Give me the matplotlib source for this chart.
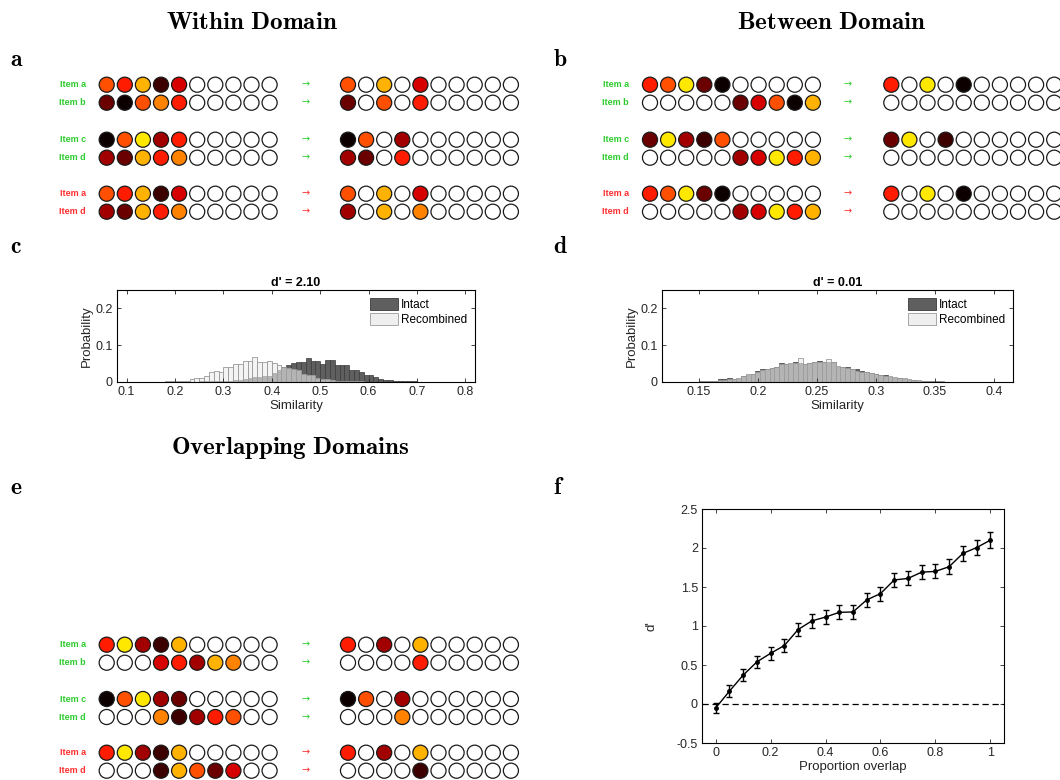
import matplotlib
matplotlib.use("Agg")
import matplotlib.pyplot as plt
from matplotlib.patches import Patch
import numpy as np

plt.rcParams['font.family'] = ['Liberation Sans', 'DejaVu Sans']
plt.rcParams['mathtext.fontset'] = 'cm'

W, H = 1060, 780

## colour codes of the circles (0 = empty)
PALETTE = ["#ffffff", "#0c0000", "#3c0000", "#6a0000", "#a20000", "#d60000",
           "#ff1c00", "#ff4f00", "#ff8200", "#ffb200", "#ffe800"]

ROW_LABELS = ["Item a", "Item b", "Item c", "Item d", "Item a", "Item d"]
ROW_OK = [True, True, True, True, False, False]

a_left = [[7, 6, 9, 2, 5, 0, 0, 0, 0, 0],
          [3, 1, 7, 8, 6, 0, 0, 0, 0, 0],
          [1, 7, 10, 4, 6, 0, 0, 0, 0, 0],
          [4, 3, 9, 6, 8, 0, 0, 0, 0, 0],
          [7, 6, 9, 2, 5, 0, 0, 0, 0, 0],
          [4, 3, 9, 6, 8, 0, 0, 0, 0, 0]]
a_right = [[7, 0, 9, 0, 5, 0, 0, 0, 0, 0],
           [3, 0, 7, 0, 6, 0, 0, 0, 0, 0],
           [1, 7, 0, 4, 0, 0, 0, 0, 0, 0],
           [4, 3, 0, 6, 0, 0, 0, 0, 0, 0],
           [7, 0, 9, 0, 5, 0, 0, 0, 0, 0],
           [4, 0, 9, 0, 8, 0, 0, 0, 0, 0]]

b_left = [[6, 7, 10, 3, 1, 0, 0, 0, 0, 0],
          [0, 0, 0, 0, 0, 3, 5, 7, 1, 9],
          [3, 10, 4, 2, 7, 0, 0, 0, 0, 0],
          [0, 0, 0, 0, 0, 4, 5, 10, 6, 9],
          [6, 7, 10, 3, 1, 0, 0, 0, 0, 0],
          [0, 0, 0, 0, 0, 4, 5, 10, 6, 9]]
b_right = [[6, 0, 10, 0, 1, 0, 0, 0, 0, 0],
           [0, 0, 0, 0, 0, 0, 0, 0, 0, 0],
           [3, 10, 0, 2, 0, 0, 0, 0, 0, 0],
           [0, 0, 0, 0, 0, 0, 0, 0, 0, 0],
           [6, 0, 10, 0, 1, 0, 0, 0, 0, 0],
           [0, 0, 0, 0, 0, 0, 0, 0, 0, 0]]

e_left = [[6, 10, 4, 2, 9, 0, 0, 0, 0, 0],
          [0, 0, 0, 5, 6, 4, 9, 8, 0, 0],
          [1, 7, 10, 4, 3, 0, 0, 0, 0, 0],
          [0, 0, 0, 8, 2, 4, 6, 7, 0, 0],
          [6, 10, 4, 2, 9, 0, 0, 0, 0, 0],
          [0, 0, 0, 2, 9, 7, 3, 5, 0, 0]]
e_right = [[6, 0, 4, 0, 9, 0, 0, 0, 0, 0],
           [0, 0, 0, 0, 6, 0, 0, 0, 0, 0],
           [1, 7, 0, 4, 0, 0, 0, 0, 0, 0],
           [0, 0, 0, 8, 0, 0, 0, 0, 0, 0],
           [6, 0, 4, 0, 9, 0, 0, 0, 0, 0],
           [0, 0, 0, 0, 2, 0, 0, 0, 0, 0]]

## histogram c (bin width 0.01)
c_recomb_start = 0.18
c_recomb = [0.002, 0.003, 0.003, 0.003, 0.004, 0.007, 0.011, 0.011, 0.017, 0.026,
            0.031, 0.027, 0.041, 0.041, 0.049, 0.050, 0.058, 0.058, 0.069, 0.055,
            0.055, 0.057, 0.051, 0.047, 0.042, 0.038, 0.035, 0.032, 0.022, 0.020,
            0.020, 0.012, 0.008, 0.008, 0.005, 0.004, 0.004, 0.004, 0.003, 0.002,
            0.002, 0.001, 0.001, 0.001]
c_intact_start = 0.22
c_intact = [0.001, 0.001, 0.001, 0.002, 0.002, 0.002, 0.003, 0.003, 0.003, 0.004,
            0.005, 0.006, 0.008, 0.010, 0.013, 0.013, 0.017, 0.017, 0.024, 0.033,
            0.040, 0.045, 0.051, 0.054, 0.054, 0.065, 0.058, 0.056, 0.049, 0.059,
            0.059, 0.045, 0.047, 0.047, 0.032, 0.032, 0.026, 0.018, 0.018, 0.0135,
            0.009, 0.0045, 0.0045, 0.003, 0.003, 0.003, 0.002, 0.002, 0.001]

## histogram d (bin width 0.004)
d_start = 0.142
d_intact = [0.001, 0.001, 0.003, 0.002, 0.003, 0.004, 0.007, 0.009, 0.010, 0.007,
            0.009, 0.015, 0.020, 0.022, 0.031, 0.034, 0.034, 0.038, 0.041, 0.052,
            0.050, 0.050, 0.054, 0.052, 0.050, 0.052, 0.055, 0.057, 0.055, 0.055,
            0.053, 0.041, 0.040, 0.040, 0.036, 0.034, 0.029, 0.028, 0.025, 0.021,
            0.020, 0.020, 0.013, 0.012, 0.010, 0.009, 0.006, 0.006, 0.004, 0.003,
            0.003, 0.002, 0.002, 0.001, 0.001, 0.001, 0.000, 0.001]
d_recomb = [0.000, 0.001, 0.002, 0.002, 0.003, 0.003, 0.005, 0.006, 0.008, 0.008,
            0.011, 0.017, 0.021, 0.022, 0.028, 0.033, 0.034, 0.037, 0.040, 0.050,
            0.049, 0.052, 0.052, 0.065, 0.050, 0.051, 0.054, 0.055, 0.055, 0.062,
            0.055, 0.043, 0.041, 0.039, 0.035, 0.030, 0.027, 0.026, 0.024, 0.022,
            0.019, 0.017, 0.015, 0.013, 0.011, 0.010, 0.008, 0.006, 0.005, 0.004,
            0.003, 0.002, 0.002, 0.002, 0.001, 0.001, 0.001, 0.001]

## panel f
overlap = [0, 0.05, 0.1, 0.15, 0.2, 0.25, 0.3, 0.35, 0.4, 0.45, 0.5,
           0.55, 0.6, 0.65, 0.7, 0.75, 0.8, 0.85, 0.9, 0.95, 1.0]
dprime = [-0.05, 0.165, 0.37, 0.54, 0.65, 0.75, 0.955, 1.065, 1.115, 1.175, 1.18,
          1.335, 1.415, 1.59, 1.61, 1.69, 1.70, 1.76, 1.93, 2.005, 2.10]
dprime_err = [0.065, 0.08, 0.08, 0.08, 0.08, 0.085, 0.085, 0.085, 0.09, 0.09, 0.085,
              0.085, 0.09, 0.095, 0.09, 0.09, 0.09, 0.095, 0.1, 0.1, 0.1]


def rect(l, t, r, b):
    return [l / W, 1 - b / H, (r - l) / W, (b - t) / H]


fig = plt.figure(figsize=(W / 100, H / 100), dpi=100)

## overlay in pixel coordinates for the circle diagrams and headings
ov = fig.add_axes([0, 0, 1, 1])
ov.set_xlim(0, W)
ov.set_ylim(H, 0)
ov.axis("off")

GREEN = "#2ecc2e"
RED = "#ff3030"
STEP = 18.1


def draw_items(left, right, x_label, x_left, x_arrow, x_right, rows_y):
    for k, y in enumerate(rows_y):
        col = GREEN if ROW_OK[k] else RED
        ov.text(x_label, y, ROW_LABELS[k], color=col, fontsize=6.5,
                fontweight="bold", ha="right", va="center")
        ov.text(x_arrow, y, "\u2192", color=col, fontsize=7, ha="center",
                va="center", family="DejaVu Sans")
        for block, x0 in ((left[k], x_left), (right[k], x_right)):
            xs = [x0 + i * STEP for i in range(len(block))]
            ov.scatter(xs, [y] * len(block), s=118,
                       c=[PALETTE[v] for v in block],
                       edgecolors="#1a1a1a", linewidths=0.9, zorder=3,
                       clip_on=False)


rows_ab = [84.7, 102.7, 139.7, 157.7, 193.7, 211.7]
rows_e = [644.7, 662.7, 699.0, 717.0, 752.7, 770.7]
draw_items(a_left, a_right, 86, 106.7, 306, 348, rows_ab)
draw_items(b_left, b_right, 629, 650, 848, 891.3, rows_ab)
draw_items(e_left, e_right, 86, 106.7, 306, 348, rows_e)
ov.set_xlim(0, W)
ov.set_ylim(H, 0)

for txt, x, y in [("Within\\ Domain", 252, 22), ("Between\\ Domain", 832, 22),
                  ("Overlapping\\ Domains", 290, 448)]:
    ov.text(x, y, r"$\mathbf{" + txt + "}$", fontsize=18, ha="center", va="center")
for txt, x, y in [("a", 10, 60), ("b", 553, 60), ("c", 10, 247), ("d", 553, 247),
                  ("e", 10, 488), ("f", 553, 488)]:
    ov.text(x, y, r"$\mathbf{" + txt + "}$", fontsize=17, ha="left", va="center")

AXC = "#262626"


def matlab_axes(ax):
    ax.tick_params(direction="in", top=True, right=True, length=3, width=0.6,
                   labelsize=9, colors=AXC, pad=3)
    for s in ax.spines.values():
        s.set_linewidth(0.8)
        s.set_color("black")


def hist_panel(box, ints_x, ints, rec_x, rec, width, xlim, xticks, xlabels, title):
    ax = fig.add_axes(rect(*box))
    ax.bar(ints_x, ints, width=width, align="edge", color="#5f5f5f",
           edgecolor="#3a3a3a", linewidth=0.5)
    ax.bar(rec_x, rec, width=width, align="edge", color=(0.93, 0.93, 0.93, 0.6),
           edgecolor="#9a9a9a", linewidth=0.6)
    ax.set_xlim(*xlim)
    ax.set_ylim(0, 0.25)
    ax.set_xticks(xticks)
    ax.set_xticklabels(xlabels)
    ax.set_yticks([0, 0.1, 0.2])
    ax.set_yticklabels(["0", "0.1", "0.2"])
    matlab_axes(ax)
    ax.set_xlabel("Similarity", fontsize=9.5, color=AXC, labelpad=1)
    ax.set_ylabel("Probability", fontsize=9.5, color=AXC, labelpad=2)
    ax.set_title(title, fontsize=9, fontweight="bold", pad=3)
    handles = [Patch(facecolor="#5f5f5f", edgecolor="#3a3a3a", lw=0.6),
               Patch(facecolor="#efefef", edgecolor="#9a9a9a", lw=0.6)]
    ax.legend(handles, ["Intact", "Recombined"], loc="upper right", frameon=False,
              fontsize=8.5, handlelength=2.4, handleheight=1.2, handletextpad=0.2,
              borderaxespad=0.3, labelspacing=0.15)
    return ax


c_int_x = [c_intact_start + 0.01 * i for i in range(len(c_intact))]
c_rec_x = [c_recomb_start + 0.01 * i for i in range(len(c_recomb))]
hist_panel((117, 290, 475, 382), c_int_x, c_intact, c_rec_x, c_recomb, 0.01,
           (0.08, 0.82), [0.1, 0.2, 0.3, 0.4, 0.5, 0.6, 0.7, 0.8],
           ["0.1", "0.2", "0.3", "0.4", "0.5", "0.6", "0.7", "0.8"], "d' = 2.10")

d_x = [d_start + 0.004 * i for i in range(len(d_intact))]
hist_panel((662, 290, 1013, 382), d_x, d_intact, d_x, d_recomb, 0.004,
           (0.119, 0.416), [0.15, 0.2, 0.25, 0.3, 0.35, 0.4],
           ["0.15", "0.2", "0.25", "0.3", "0.35", "0.4"], "d' = 0.01")

## panel f
axf = fig.add_axes(rect(702, 509, 1004, 743))
axf.axhline(0, color="black", ls=(0, (5, 3)), lw=0.9)
axf.errorbar(overlap, dprime, yerr=dprime_err, color="black", lw=1, marker="o",
             ms=2.5, capsize=2.2, elinewidth=1, capthick=1)
axf.set_xlim(-0.05, 1.05)
axf.set_ylim(-0.5, 2.5)
axf.set_xticks([0, 0.2, 0.4, 0.6, 0.8, 1])
axf.set_xticklabels(["0", "0.2", "0.4", "0.6", "0.8", "1"])
axf.set_yticks([-0.5, 0, 0.5, 1, 1.5, 2, 2.5])
axf.set_yticklabels(["-0.5", "0", "0.5", "1", "1.5", "2", "2.5"])
matlab_axes(axf)
axf.set_xlabel("Proportion overlap", fontsize=9.5, color=AXC, labelpad=1)
axf.set_ylabel("d'", fontsize=9.5, color=AXC, labelpad=14)

fig.savefig("out.png", dpi=100)
